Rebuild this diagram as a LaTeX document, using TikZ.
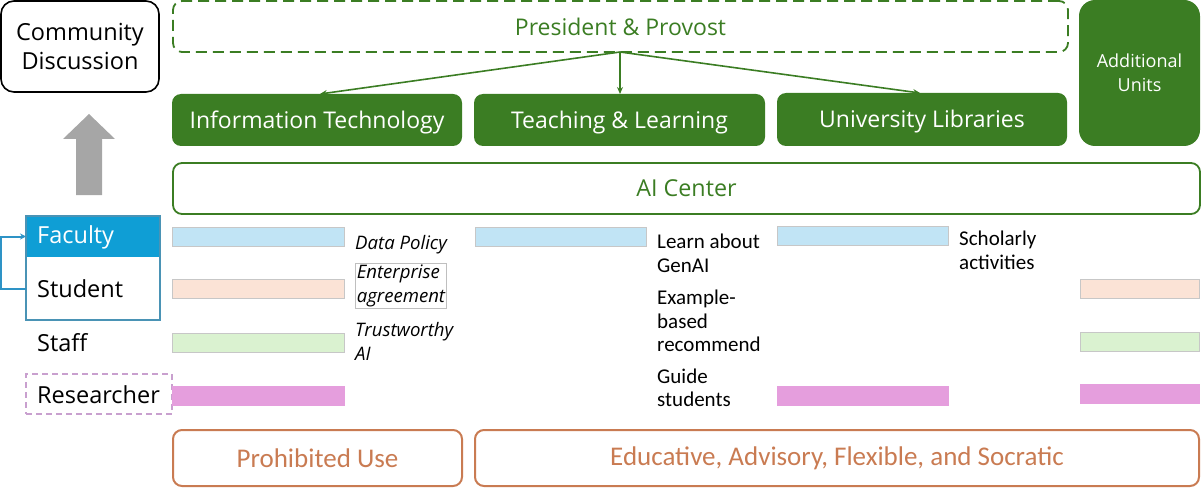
\documentclass[tikz,border=0pt]{standalone}
\usepackage{fontspec}
\setmainfont{Open Sans}
\newfontfamily\narrowfont{Carlito}
\usetikzlibrary{arrows.meta}
\definecolor{dgreen}{HTML}{3B7D23}
\definecolor{facblue}{HTML}{0F9ED5}
\definecolor{fsborder}{HTML}{4A93B5}
\definecolor{linkblue}{HTML}{2E93C6}
\definecolor{respink}{HTML}{C9A0CF}
\definecolor{barblue}{HTML}{C1E4F5}
\definecolor{barpeach}{HTML}{FBE3D6}
\definecolor{bargreen}{HTML}{DAF2D0}
\definecolor{barpink}{HTML}{E59EDD}
\definecolor{orng}{HTML}{C97B52}
\definecolor{arrgray}{HTML}{A6A6A6}
\tikzset{
  box/.style={anchor=north west, inner sep=0pt, outer sep=0pt},
  unit/.style={box, fill=dgreen, rounded corners=9pt, text=white, font=\fontsize{23}{27}\selectfont},
  bar/.style={box, draw=black!22, line width=0.6pt, minimum height=19pt},
  lbl/.style={anchor=north west, inner sep=0pt, align=left, font=\fontsize{18.6}{24}\selectfont\itshape},
  nlbl/.style={anchor=north west, inner sep=0pt, align=left, font=\narrowfont\fontsize{21}{23.3}\selectfont},
  role/.style={anchor=west, inner sep=0pt, font=\fontsize{23.5}{27}\selectfont},
  obox/.style={box, draw=orng, line width=2pt, rounded corners=9pt, text=orng, font=\narrowfont\fontsize{27}{30}\selectfont},
  tip/.style={-{Stealth[length=7pt,width=6pt]}, dgreen, line width=1.6pt}
}
\begin{document}
\begin{tikzpicture}[x=1pt,y=-1pt]
\useasboundingbox (0,0) rectangle (1201,489);

% Community discussion
\node[box, draw=black, line width=1.6pt, rounded corners=13pt, minimum width=158pt, minimum height=91pt, align=center, font=\fontsize{23.5}{29}\selectfont] (cd) at (1,1) {Community\\Discussion};

% gray up arrow
\fill[arrgray] (76,195) -- (76,139) -- (63,139) -- (89,114) -- (115,139) -- (102,139) -- (102,195) -- cycle;

% President & Provost
\node[box, draw=dgreen, line width=1.8pt, dash pattern=on 11pt off 6pt, rounded corners=9pt, minimum width=895pt, minimum height=51pt, text=dgreen, font=\fontsize{23}{27}\selectfont] (pp) at (173,1) {President \& Provost};

% Units
\node[unit, minimum width=290pt, minimum height=52pt, text depth=1pt] (it) at (172,94) {Information Technology};
\node[unit, minimum width=291pt, minimum height=52pt, text depth=1pt] (tl) at (474,94) {Teaching \& Learning};
\node[unit, minimum width=290pt, minimum height=53pt, text depth=1pt] (ul) at (777,93) {University Libraries};
\node[unit, rounded corners=16pt, minimum width=121pt, minimum height=146pt, align=center, font=\fontsize{18}{24}\selectfont] (au) at (1079,0) {Additional\\Units};

\coordinate (ppb) at (620,52);
\draw[tip] (ppb) -- (it.north -| 320,0);
\draw[tip] (ppb) -- (tl.north -| 620,0);
\draw[tip] (ppb) -- (ul.north -| 920,0);

% AI Center
\node[box, draw=dgreen, line width=1.8pt, rounded corners=9pt, minimum width=1027pt, minimum height=51pt, text=dgreen, font=\fontsize{23.3}{27}\selectfont] (aic) at (173,163) {AI Center};

% Faculty / Student
\node[box, fill=facblue, minimum width=134pt, minimum height=41pt] (fac) at (26,216) {};
\node[box, minimum width=134pt, minimum height=63pt] (stu) at (26,257) {};
\draw[fsborder, line width=1.4pt] (26,216) rectangle (160,320);
\node[role, text=white] (fact) at (37,237) {Faculty};
\node[role] (stut) at (37,289) {Student};
\draw[linkblue, line width=2pt, -{Stealth[length=6pt,width=6pt]}] (stu.west) -- ++(-25,0) |- (fac.west);
\node[role] (stf) at (37,342.5) {Staff};
\node[box, draw=respink, line width=1.6pt, dash pattern=on 6pt off 4pt, minimum width=146pt, minimum height=40pt] (resb) at (26,374) {};
\node[role] (rest) at (37,394.5) {Researcher};

% Bars column 1
\node[bar, fill=barblue, minimum width=172pt] (b11) at (172,227) {};
\node[bar, fill=barpeach, minimum width=172pt] (b12) at (172,279) {};
\node[bar, fill=bargreen, minimum width=172pt] (b13) at (172,333) {};
\node[bar, fill=barpink, minimum width=172pt, draw=barpink] (b14) at (172,386) {};
% column 2
\node[bar, fill=barblue, minimum width=171pt] (b21) at (475,227) {};
% column 3
\node[bar, fill=barblue, minimum width=171pt] (b31) at (777,226) {};
\node[bar, fill=barpink, minimum width=171pt, draw=barpink] (b34) at (777,386) {};
% column 4
\node[bar, fill=barpeach, minimum width=119pt] (b42) at (1080,279) {};
\node[bar, fill=bargreen, minimum width=119pt] (b43) at (1080,332) {};
\node[bar, fill=barpink, minimum width=119pt, draw=barpink] (b44) at (1080,384) {};

% labels column 1
\node[lbl] (l1) at (355,235) {Data Policy};
\node[lbl, draw=black!25, line width=0.5pt, inner sep=1.5pt] (l2) at (355,263) {Enterprise\\agreement};
\node[lbl] (l3) at (355,322) {Trustworthy\\AI};
% labels column 2
\node[nlbl] (m1) at (657,234) {Learn about\\GenAI};
\node[nlbl] (m2) at (657,290) {Example-\\based\\recommend};
\node[nlbl] (m3) at (657,368.5) {Guide\\students};
% column 3
\node[nlbl] (s1) at (959,231) {Scholarly\\activities};

% bottom
\node[obox, minimum width=289pt, minimum height=56pt] (pu) at (173,430) {Prohibited Use};
\node[obox, minimum width=724pt, minimum height=56pt] (ed) at (475,430) {Educative, Advisory, Flexible, and Socratic};
\end{tikzpicture}
\end{document}
